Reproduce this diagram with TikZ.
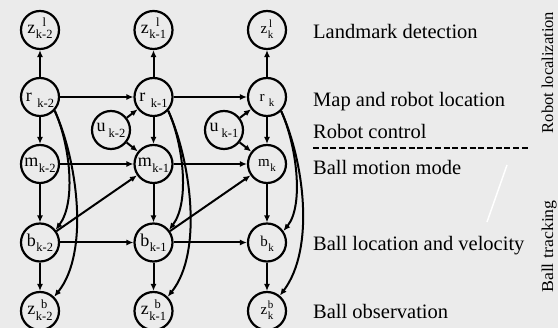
\documentclass[tikz,border=0pt]{standalone}
\usepackage{fontspec}
\setmainfont{Liberation Serif}
\usetikzlibrary{arrows.meta}
\definecolor{bgcol}{RGB}{235,235,235}

% variable labels: main letter with stacked super/subscript
\newsavebox\dvsup
\newsavebox\dvsub
\newlength\dvw
\newcommand\scr[1]{{\fontsize{\scrsz}{\scrsz}\selectfont #1}}
\newcommand\dv[3]{#1\kern0.5pt\sbox\dvsup{\scr{#2}}\sbox\dvsub{\scr{#3}}%
  \setlength\dvw{\wd\dvsub}\ifdim\wd\dvsup>\dvw\setlength\dvw{\wd\dvsup}\fi
  \rlap{\makebox[\dvw]{\raisebox{\suprs}{\usebox\dvsup}}}%
  \makebox[\dvw]{\raisebox{-\subrs}{\usebox\dvsub}}}
\newcommand\dvs[3][5.5pt]{#2\hspace{#1}\raisebox{-\subrs}{\scr{#3}}}
\newcommand\dvn[2]{#1\kern0.5pt\raisebox{-\subrs}{\scr{#2}}}

\begin{document}
\begin{tikzpicture}[x=1pt,y=-1pt,
  var/.style={circle, draw, line width=2.2pt, minimum size=38pt, inner sep=0pt,
    text height=10pt, text depth=2pt,
    font={\fontsize{18}{18}\selectfont\def\scrsz{12.5}\def\suprs{6.8pt}\def\subrs{5.3pt}}},
  varsm/.style={var,
    font={\fontsize{15}{15}\selectfont\def\scrsz{11}\def\suprs{6pt}\def\subrs{4.8pt}}},
  rpos/.style={text height=11pt, text depth=1pt},
  upos/.style={text height=8pt, text depth=4pt},
  mpos/.style={text height=9pt, text depth=3pt},
  zpos/.style={text height=10pt, text depth=3pt},
  arr/.style={-{Latex[length=7pt,width=6pt]}, line width=2pt},
  lbl/.style={anchor=base west, inner sep=0pt, font=\fontsize{20.5}{20.5}\selectfont},
  side/.style={anchor=base, rotate=90, inner sep=0pt, font=\fontsize{16.5}{16.5}\selectfont},
]
\fill[bgcol] (0,0) rectangle (558,328);
\useasboundingbox (0,0) rectangle (558,328);

% time slice k-2
\node[var,zpos] (z2l) at (40,30)    {\dv{z}{l}{k-2}};
\node[var,rpos] (r2)  at (40,97)    {\dvs{r}{k-2}};
\node[var,mpos] (m2)  at (40,164)   {\dvn{m}{k-2}};
\node[var]      (b2)  at (40,242.5) {\dvn{b}{k-2}};
\node[var]      (z2b) at (40,311)   {\dv{z}{b}{k-2}};
\node[var,upos] (u2)  at (111,130)  {\dvs[3pt]{u}{k-2}};

% time slice k-1
\node[var,zpos] (z1l) at (153.5,30)    {\dv{z}{l}{k-1}};
\node[var,rpos] (r1)  at (153.5,97)    {\dvs{r}{k-1}};
\node[var,mpos] (m1)  at (153.5,164)   {\dvn{m}{k-1}};
\node[var]      (b1)  at (153.5,242.5) {\dvn{b}{k-1}};
\node[var]      (z1b) at (153.5,311)   {\dv{z}{b}{k-1}};
\node[var,upos] (u1)  at (224,130)     {\dvs[3pt]{u}{k-1}};

% time slice k
\node[varsm,zpos] (z0l) at (267,30)    {\dv{z}{l}{k}};
\node[varsm,rpos] (r0)  at (267,97)    {\dvs[4.5pt]{r}{k}};
\node[varsm,mpos] (m0)  at (267,164)   {\dvn{m}{k}};
\node[varsm]      (b0)  at (267,242.5) {\dvn{b}{k}};
\node[varsm]      (z0b) at (267,311)   {\dv{z}{b}{k}};

% edges within each slice
\foreach \s in {2,1,0}{
  \draw[arr] (r\s) -- (z\s l);
  \draw[arr] (r\s) -- (m\s);
  \draw[arr] (m\s) -- (b\s);
  \draw[arr] (b\s) -- (z\s b);
}
\draw[arr] (r2.-43) .. controls +(15,33) and +(21,-28) .. (b2.39);
\draw[arr] (r2.-43) .. controls +(22,48) and +(36,-45) .. (z2b.45);
\draw[arr] (r1.-43) .. controls +(15,33) and +(21,-28) .. (b1.39);
\draw[arr] (r1.-43) .. controls +(22,48) and +(36,-45) .. (z1b.45);
\draw[arr] (r0.-45) .. controls +(15,33) and +(21,-26) .. (b0.35);
\draw[arr] (r0.-45) .. controls +(22,48) and +(36,-48) .. (z0b.50);

% edges between slices
\draw[arr] (r2) -- (r1);
\draw[arr] (r1) -- (r0);
\draw[arr] (m2) -- (m1);
\draw[arr] (m1) -- (m0);
\draw[arr] (b2) -- (b1);
\draw[arr] (b1) -- (b0);
\draw[arr] (b2) -- (m1);
\draw[arr] (b1) -- (m0);
\draw[arr] (u2) -- (r1);
\draw[arr] (u2) -- (m1);
\draw[arr] (u1) -- (r0);
\draw[arr] (u1) -- (m0);

% row captions
\node[lbl] (t1) at (313,39)  {Landmark detection};
\node[lbl] (t2) at (313,107) {Map and robot location};
\node[lbl] (t3) at (313,139) {Robot control};
\node[lbl] (t4) at (313,175) {Ball motion mode};
\node[lbl] (t5) at (313,251) {Ball location and velocity};
\node[lbl] (t6) at (313,319) {Ball observation};

% separator between the two parts
\coordinate (sepL) at (313,148);
\coordinate (sepR) at (528,148);
\draw[line width=2.3pt, dash pattern=on 6pt off 2.7pt] (sepL) -- (sepR);
\coordinate (wa) at (507,165);
\coordinate (wb) at (487,222);
\draw[white, line width=1.5pt] (wa) -- (wb);

\node[side] (s1) at (553,72.5) {Robot localization};
\node[side] (s2) at (553,246.5) {\scalebox{1.08}[1]{Ball tracking}};
\end{tikzpicture}
\end{document}
